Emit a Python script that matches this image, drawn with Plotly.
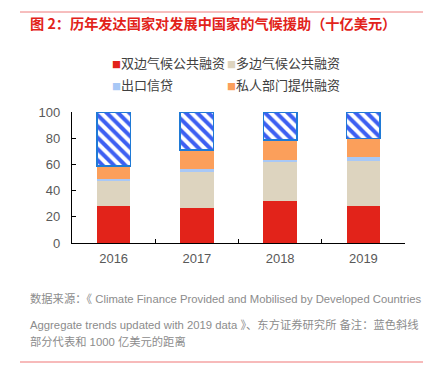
import plotly.graph_objects as go

years = ["2016", "2017", "2018", "2019"]
bilateral = [28.0, 27.1, 32.0, 28.6]
multilateral = [19.0, 27.4, 29.6, 34.3]
export_credit = [1.6, 2.0, 2.1, 2.7]
private = [10.0, 14.5, 14.9, 14.0]
target = 100
remainder = [round(target - (a + b + c + d), 2) for a, b, c, d in zip(bilateral, multilateral, export_credit, private)]

names = ["双边气候公共融资", "多边气候公共融资", "出口信贷", "私人部门提供融资"]
colors = ["#e2231a", "#ddd4bf", "#a8c8f6", "#fb9f5b"]
series = [bilateral, multilateral, export_credit, private]

OFF = 8  # default page body margin
WIN_W, WIN_H = 431, 373
W, H = WIN_W - OFF, WIN_H - OFF
# plot area in screenshot pixels
L, R, T, B = 72, 405, 112, 243

def px(x):
    return (x - L) / (R - L)

def py(y):
    return (B - y) / (B - T)

FONT = "Liberation Sans, Arial, Noto Sans CJK SC, sans-serif"

fig = go.Figure()
for n, c, s in zip(names, colors, series):
    fig.add_trace(go.Bar(x=years, y=s, name=n, marker=dict(color=c, line=dict(width=0)),
                         width=0.4, showlegend=False))
fig.add_trace(go.Bar(x=years, y=remainder, name="距离1000亿美元", showlegend=False, width=0.4,
                     marker=dict(color="white", line=dict(color="#1f7ad6", width=1.5),
                                 pattern=dict(shape="\\", fgcolor="#3d5ff2", bgcolor="white",
                                              fgopacity=1, size=8, solidity=0.5))))

fig.update_layout(
    width=W, height=H,
    margin=dict(l=L - OFF, r=WIN_W - R, t=T - OFF, b=WIN_H - B, autoexpand=False),
    barmode="stack",
    showlegend=False,
    plot_bgcolor="white", paper_bgcolor="white",
    font=dict(family=FONT, size=13, color="#595959"),
    xaxis=dict(showline=True, linecolor="#000000", linewidth=1.2, ticks="inside",
               tickson="boundaries", ticklen=4, tickcolor="#000000", automargin=False,
               ticklabelstandoff=3, tickfont=dict(size=13, color="#595959")),
    yaxis=dict(range=[0, 100], tickvals=[0, 20, 40, 60, 80, 100], showgrid=False,
               showline=True, linecolor="#000000", linewidth=1.2, ticks="inside",
               ticklen=4, tickcolor="#000000", zeroline=False, automargin=False,
               ticklabelstandoff=8, tickfont=dict(size=13, color="#595959")),
)

# legend (2 x 2 grid, as in the reference)
leg_pos = [(111, 62), (226, 62), (111, 84), (226, 84)]
for n, c, (lx, ly) in zip(names, colors, leg_pos):
    fig.add_annotation(text=f"<span style='color:{c};font-size:9px'>■</span>{n}",
                       xref="paper", yref="paper", x=px(lx), y=py(ly), xanchor="left", yanchor="middle",
                       showarrow=False, borderpad=0,
                       font=dict(family="Noto Sans CJK SC", size=13, color="#404040"))

fig.add_annotation(text="<b>图 2：历年发达国家对发展中国家的气候援助（十亿美元）</b>",
                   xref="paper", yref="paper", x=px(28), y=py(23), xanchor="left", yanchor="middle",
                   showarrow=False, font=dict(family="Noto Sans CJK SC", size=14.2, color="#e2231a"))

foot = [
    ("数据来源：《 Climate Finance Provided and Mobilised by Developed Countries", 298),
    ("Aggregate trends updated with 2019 data 》、东方证券研究所 备注：蓝色斜线", 324),
    ("部分代表和 1000 亿美元的距离", 341),
]
for t, yy in foot:
    fig.add_annotation(text=t, xref="paper", yref="paper", x=px(28), y=py(yy),
                       xanchor="left", yanchor="middle", showarrow=False,
                       font=dict(family=FONT, size=11.3, color="#8c8c8c"))

fig.add_shape(type="line", xref="paper", yref="paper", x0=px(20), x1=px(431), y0=py(12), y1=py(12),
              line=dict(color="#ee7d7d", width=1))
fig.add_shape(type="line", xref="paper", yref="paper", x0=px(20), x1=px(431), y0=py(362), y1=py(362),
              line=dict(color="#f4a3a3", width=1.5))

fig.write_html("out.html")
